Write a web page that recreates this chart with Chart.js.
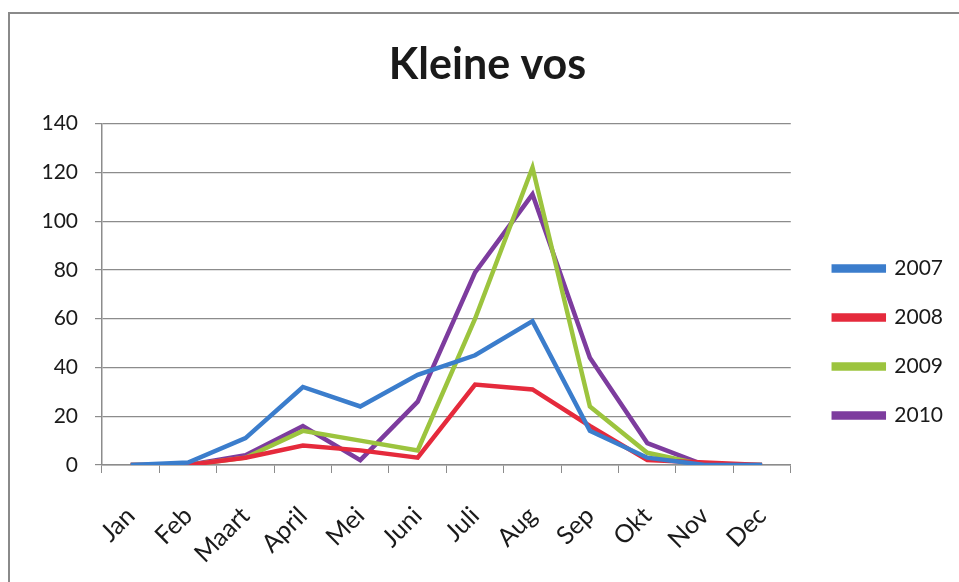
<!DOCTYPE html>
<html>
<head>
<meta charset="utf-8">
<title>Kleine vos</title>
<script src="https://cdn.jsdelivr.net/npm/chart.js@4.4.1/dist/chart.umd.min.js"></script>
<style>
  html, body { margin: 0; padding: 0; background: #fff; }
  #wrap { position: relative; width: 959px; height: 582px; overflow: hidden; }
  #frame { position: absolute; left: 8px; top: 12px; width: 1000px; height: 600px;
           border-left: 2px solid #8a8a8a; border-top: 2px solid #8a8a8a; pointer-events: none; }
</style>
</head>
<body>
<div id="wrap">
  <canvas id="mycanvas" width="959" height="582"></canvas>
  <div id="frame"></div>
</div>
<script>
// maanden + tellingen per jaar
var maanden = ['Jan', 'Feb', 'Maart', 'April', 'Mei', 'Juni', 'Juli', 'Aug', 'Sep', 'Okt', 'Nov', 'Dec'];
var jaren = ['2007', '2008', '2009', '2010'];
var data2007 = [0, 1, 11, 32, 24, 37, 45, 59, 14, 3, 0, 0];
var data2008 = [0, 0, 3, 8, 6, 3, 33, 31, 16, 2, 1, 0];
var data2009 = [0, 0, 3, 14, 10, 6, 60, 122, 24, 5, 0, 0];
var data2010 = [0, 0, 4, 16, 2, 26, 79, 111, 44, 9, 0, 0];
var kleuren = ['#3b7dcc', '#e52a3c', '#9cc43e', '#7d3c9e'];

var series = [data2007, data2008, data2009, data2010];
var datasets = [];
for (var i in series) {
  datasets.push({
    label: jaren[i],
    data: series[i],
    borderColor: kleuren[i],
    backgroundColor: kleuren[i],
    borderWidth: 4.5,
    pointRadius: 0,
    tension: 0,
    fill: false
  });
}

var fontFam = 'Lato, "Open Sans", sans-serif';
var gridKleur = '#8c8c8c';

// legenda iets naar rechts/onder schuiven, zoals in Excel
var legendShift = {
  id: 'legendShift',
  afterLayout: function(chart) {
    var l = chart.legend;
    l.top += 51; l.bottom += 51;
    l.left += 15; l.right += 15;
  }
};

var ctx = document.getElementById('mycanvas');
var lineChart = new Chart(ctx, {
  type: 'line',
  data: { labels: maanden, datasets: datasets },
  plugins: [legendShift],
  options: {
    responsive: false,
    animation: false,
    layout: { padding: { left: 37, right: 21, top: 0, bottom: 0 } },
    plugins: {
      title: {
        display: true,
        text: 'Kleine vos',
        color: '#1a1a1a',
        font: { family: fontFam, size: 43, weight: 'bold' },
        padding: { top: 39, bottom: 33 }
      },
      legend: {
        position: 'right',
        labels: {
          color: '#1a1a1a',
          font: { family: fontFam, size: 21 },
          boxWidth: 50,
          boxHeight: 4,
          padding: 28
        }
      },
      tooltip: { enabled: false }
    },
    scales: {
      x: {
        offset: true,
        grid: { display: true, drawOnChartArea: false, drawTicks: true, tickLength: 8, color: gridKleur, offset: true },
        border: { color: gridKleur, width: 1.5 },
        ticks: {
          color: '#1a1a1a',
          font: { family: fontFam, size: 25 },
          maxRotation: 45,
          minRotation: 45,
          padding: 28,
          autoSkip: false
        },
        afterFit: function(scale) { scale.height = 117; }
      },
      y: {
        min: 0,
        max: 140,
        ticks: {
          stepSize: 20,
          color: '#1a1a1a',
          font: { family: fontFam, size: 21 },
          padding: 17
        },
        grid: { color: gridKleur, lineWidth: 1.2, drawTicks: true, tickLength: 7 },
        border: { color: gridKleur, width: 1.5 },
        afterFit: function(scale) { scale.width = 65; }
      }
    }
  }
});
</script>
</body>
</html>
